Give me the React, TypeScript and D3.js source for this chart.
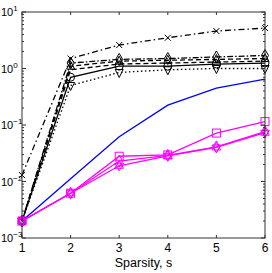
import * as d3 from "d3";

const xs = [1, 2, 3, 4, 5, 6];

// black comparison curves
const crossDashDot = [0.013, 1.5, 2.6, 3.5, 4.6, 5.2];
const diamondDashDot = [0.002, 1.25, 1.45, 1.5, 1.6, 1.7];
const triDashed = [0.002, 1.1, 1.35, 1.4, 1.45, 1.5];
const plainDashed = [0.002, 0.95, 1.2, 1.25, 1.3, 1.35];
const circleSolid = [0.002, 0.7, 1.1, 1.1, 1.2, 1.25];
const triDownDotted = [0.002, 0.5, 0.85, 0.95, 1.0, 1.0];
// blue bound
const blueLine = [0.002, 0.0112, 0.062, 0.225, 0.45, 0.65];
// magenta
const magSquare = [0.002, 0.0062, 0.028, 0.0295, 0.072, 0.115];
const magDiamond = [0.002, 0.0062, 0.023, 0.029, 0.041, 0.076];
const magHex = [0.002, 0.0062, 0.019, 0.0285, 0.04, 0.073];

const yTicks = [1, 0, -1, -2, -3];

const W = 272, H = 273;
const margin = { left: 22, right: 7, top: 12, bottom: 35 };

export default function App() {
  const x = d3.scaleLinear().domain([1, 6]).range([margin.left, W - margin.right]);
  const y = d3.scaleLog().domain([1e-3, 10]).range([H - margin.bottom, margin.top]);
  const line = d3.line<number>().x((_, i) => x(xs[i])).y((d) => y(d));

  const minor: number[] = [];
  for (let e = -3; e < 1; e++) for (let m = 2; m <= 9; m++) minor.push(m * Math.pow(10, e));

  const marker = (kind: string, cx: number, cy: number, color: string, key: string) => {
    const s = 4;
    if (kind === "square")
      return <rect key={key} x={cx - s} y={cy - s} width={2 * s} height={2 * s} fill="none" stroke={color} />;
    if (kind === "circle") return <circle key={key} cx={cx} cy={cy} r={s} fill="none" stroke={color} />;
    if (kind === "diamond")
      return <path key={key} d={`M${cx},${cy - 6}L${cx + 3.5},${cy}L${cx},${cy + 6}L${cx - 3.5},${cy}Z`} fill="none" stroke={color} />;
    if (kind === "tri")
      return <path key={key} d={`M${cx},${cy - 5}L${cx + 4},${cy + 3}L${cx - 4},${cy + 3}Z`} fill="none" stroke={color} />;
    if (kind === "tridown")
      return <path key={key} d={`M${cx},${cy + 5}L${cx + 4},${cy - 3}L${cx - 4},${cy - 3}Z`} fill="none" stroke={color} />;
    if (kind === "cross")
      return <path key={key} d={`M${cx - 3},${cy - 3}L${cx + 3},${cy + 3}M${cx - 3},${cy + 3}L${cx + 3},${cy - 3}`} stroke={color} />;
    if (kind === "hex")
      return <path key={key} d={`M${cx},${cy - 5}L${cx + 4.3},${cy + 2.5}L${cx - 4.3},${cy + 2.5}ZM${cx},${cy + 5}L${cx + 4.3},${cy - 2.5}L${cx - 4.3},${cy - 2.5}Z`} fill="none" stroke={color} />;
    return null;
  };

  const series = [
    { data: triDownDotted, color: "#000", dash: "1.5,2.5", mk: "tridown" },
    { data: circleSolid, color: "#000", dash: "", mk: "circle" },
    { data: plainDashed, color: "#000", dash: "5,3", mk: "" },
    { data: triDashed, color: "#000", dash: "5,3", mk: "tri" },
    { data: diamondDashDot, color: "#000", dash: "6,2,1.5,2", mk: "diamond" },
    { data: crossDashDot, color: "#000", dash: "6,3,1.5,3", mk: "cross" },
    { data: blueLine, color: "#0000ff", dash: "", mk: "" },
    { data: magHex, color: "#ff00ff", dash: "", mk: "hex" },
    { data: magDiamond, color: "#ff00ff", dash: "", mk: "diamond" },
    { data: magSquare, color: "#ff00ff", dash: "", mk: "square" },
  ];

  const x0 = margin.left, x1 = W - margin.right, y0 = H - margin.bottom, y1 = margin.top;
  const ax = "#333";

  return (
    <svg width={W} height={H} style={{ position: "absolute", left: 0, top: 0 }} fontFamily="Liberation Sans, Arial, sans-serif">
      <rect x={0} y={0} width={W} height={H} fill="#fff" />
      {series.map((s, i) => (
        <g key={i}>
          <path d={line(s.data) || ""} fill="none" stroke={s.color} strokeWidth={1.3} strokeDasharray={s.dash} />
          {s.mk && s.data.map((v, j) => marker(s.mk, x(xs[j]), y(v), s.color, `${i}-${j}`))}
        </g>
      ))}
      <g stroke={ax} strokeWidth={1} fill="none">
        <rect x={x0} y={y1} width={x1 - x0} height={y0 - y1} />
        {xs.map((v) => (
          <path key={"xt" + v} d={`M${x(v)},${y0}v-3M${x(v)},${y1}v3`} />
        ))}
        {yTicks.map((e) => (
          <path key={"yt" + e} d={`M${x0},${y(Math.pow(10, e))}h4M${x1},${y(Math.pow(10, e))}h-4`} />
        ))}
        {minor.map((v, i) => (
          <path key={"ym" + i} d={`M${x0},${y(v)}h2M${x1},${y(v)}h-2`} />
        ))}
      </g>
      <g fill="#000" fontSize={12}>
        {xs.map((v) => (
          <text key={"xl" + v} x={x(v)} y={y0 + 14} textAnchor="middle">{v}</text>
        ))}
        {yTicks.map((e) => (
          <text key={"yl" + e} x={1} y={y(Math.pow(10, e)) + 4} fontSize={11}>
            10<tspan fontSize={8} dy={-5}>{e < 0 ? "\u2212" + Math.abs(e) : e}</tspan>
          </text>
        ))}
        <text x={(x0 + x1) / 2} y={H - 6} textAnchor="middle" fontSize={12.5}>Sparsity, s</text>
      </g>
    </svg>
  );
}
